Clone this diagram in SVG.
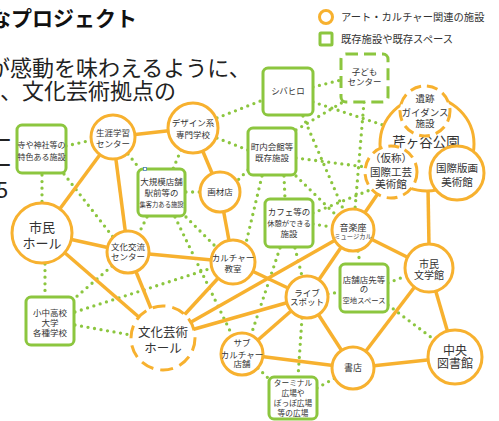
<svg xmlns="http://www.w3.org/2000/svg" width="499" height="421" viewBox="0 0 499 421">
<style>
text{font-family:"Noto Sans CJK JP","Noto Sans",sans-serif;fill:#333;text-anchor:middle}
.h{fill:#111;text-anchor:start}
.title{font-weight:bold;font-size:21px}
.body{font-size:22px;fill:#222}
.lg{font-size:10.3px;text-anchor:start;fill:#333}
.o{fill:#fff;stroke:#F7B12F;stroke-width:3}
.od{fill:#fff;stroke:#F7B12F;stroke-width:3;stroke-dasharray:11 6}
.g{fill:#fff;stroke:#8CC63F;stroke-width:3}
.gd{fill:#fff;stroke:#8CC63F;stroke-width:3;stroke-dasharray:12 6}
#solid line{stroke:#F7B12F;stroke-width:3.5}
#dotted line{stroke:#8CC63F;stroke-width:3.3;stroke-linecap:round;stroke-dasharray:0 6.6}
.s8{font-size:8px}.s85{font-size:8.5px}.s9{font-size:9px}.s95{font-size:9.5px}.s10{font-size:10px}.s105{font-size:10.5px}
.s73{font-size:7.3px}.s77{font-size:7.7px}.s63{font-size:6.3px}
</style>

<g id="heading">
<text class="h title" x="-10" y="26">なプロジェクト</text>
<text class="h body" x="-12" y="76">が感動を味わえるように、</text>
<text class="h body" x="0" y="99">、文化芸術拠点の</text>
<text class="h body" x="-10" y="148">ー</text>
<text class="h body" x="-10" y="173">ー</text>
<text class="h body" x="-4" y="198">5</text>
</g>

<g id="legend">
<circle class="o" cx="326" cy="17" r="6.5"/>
<text class="lg" x="341" y="21">アート・カルチャー関連の施設</text>
<rect class="g" x="320" y="33" width="12" height="12" rx="1"/>
<text class="lg" x="341" y="43">既存施設や既存スペース</text>
</g>

<g id="connectors">
<g id="dotted">
<line x1="66" y1="146" x2="92" y2="140"/>
<line x1="42" y1="175" x2="42" y2="203"/>
<line x1="64" y1="174" x2="113" y2="237"/>
<line x1="128" y1="154" x2="140" y2="169"/>
<line x1="181" y1="150" x2="173" y2="169"/>
<line x1="186" y1="192" x2="200" y2="192"/>
<line x1="147" y1="217" x2="139" y2="233"/>
<line x1="186" y1="217" x2="216" y2="247"/>
<line x1="175" y1="217" x2="232" y2="335"/>
<line x1="112" y1="266" x2="75" y2="298"/>
<line x1="45" y1="264" x2="45" y2="296"/>
<line x1="75" y1="312" x2="212" y2="268"/>
<line x1="75" y1="325" x2="131" y2="335"/>
<line x1="217" y1="118" x2="263" y2="100"/>
<line x1="217" y1="138" x2="248" y2="150"/>
<line x1="313" y1="87" x2="341" y2="80"/>
<line x1="313" y1="102" x2="383" y2="125"/>
<line x1="296" y1="130" x2="343" y2="102"/>
<line x1="364" y1="102" x2="355" y2="209"/>
<line x1="303" y1="116" x2="344" y2="211"/>
<line x1="296" y1="158" x2="366" y2="167"/>
<line x1="248" y1="170" x2="237" y2="181"/>
<line x1="262" y1="176" x2="246" y2="243"/>
<line x1="284" y1="176" x2="285" y2="199"/>
<line x1="296" y1="176" x2="337" y2="216"/>
<line x1="313" y1="213" x2="370" y2="190"/>
<line x1="313" y1="224" x2="332" y2="227"/>
<line x1="280" y1="248" x2="251" y2="335"/>
<line x1="295" y1="248" x2="302" y2="276"/>
<line x1="358" y1="251" x2="360" y2="264"/>
<line x1="328" y1="294" x2="340" y2="292"/>
<line x1="302" y1="318" x2="298" y2="377"/>
<line x1="388" y1="283" x2="406" y2="276"/>
<line x1="388" y1="305" x2="432" y2="338"/>
<line x1="258" y1="368" x2="270" y2="380"/>
<line x1="317" y1="388" x2="335" y2="378"/>
</g>
<g id="solid">
<line x1="113" y1="137" x2="193" y2="128"/>
<line x1="113" y1="137" x2="42" y2="233"/>
<line x1="113" y1="137" x2="128" y2="252"/>
<line x1="193" y1="128" x2="220" y2="192"/>
<line x1="220" y1="192" x2="233" y2="262"/>
<line x1="42" y1="233" x2="128" y2="252"/>
<line x1="128" y1="252" x2="233" y2="262"/>
<line x1="42" y1="233" x2="163" y2="338"/>
<line x1="128" y1="252" x2="163" y2="338"/>
<line x1="233" y1="262" x2="163" y2="338"/>
<line x1="353" y1="230" x2="163" y2="338"/>
<line x1="307" y1="297" x2="163" y2="338"/>
<line x1="233" y1="262" x2="307" y2="297"/>
<line x1="353" y1="230" x2="307" y2="297"/>
<line x1="307" y1="297" x2="242" y2="354"/>
<line x1="307" y1="297" x2="353" y2="368"/>
<line x1="242" y1="354" x2="353" y2="368"/>
<line x1="353" y1="368" x2="455" y2="357"/>
<line x1="353" y1="368" x2="429" y2="268"/>
<line x1="353" y1="230" x2="429" y2="268"/>
<line x1="429" y1="268" x2="455" y2="357"/>
<line x1="428" y1="188" x2="429" y2="246"/>
<line x1="353" y1="230" x2="392" y2="173"/>
<line x1="392" y1="171" x2="457" y2="171"/>
</g>
</g>

<g id="tera"><rect class="g" x="17" y="125" width="49" height="48" rx="5"/>
<text class="s8" x="41.5" y="148">寺や神社等の</text><text class="s8" x="41.5" y="160">特色ある施設</text></g>

<g id="shogai"><circle class="o" cx="113" cy="137" r="22"/>
<text class="s85" x="113" y="136">生涯学習</text><text class="s85" x="113" y="147">センター</text></g>

<g id="design"><circle class="o" cx="193" cy="128" r="25"/>
<text class="s85" x="193" y="126">デザイン系</text><text class="s85" x="193" y="138">専門学校</text></g>

<g id="daikibo"><rect class="g" x="138" y="169" width="47" height="47" rx="5"/>
<text class="s85" x="161.5" y="185">大規模店舗</text><text class="s85" x="161.5" y="196">駅前等の</text><text class="s63" x="161.5" y="206.5">集客力ある施設</text></g>
<rect x="143.5" y="167.5" width="3" height="3" fill="#fff" stroke="#4a7ebb" stroke-width="0.8"/>

<g id="gazai"><circle class="o" cx="220" cy="192" r="20"/>
<text class="s85" x="220" y="195">画材店</text></g>

<g id="shiminhall"><circle class="o" cx="42" cy="233" r="30"/>
<text x="42" y="232" style="font-size:13px">市民</text><text x="42" y="248" style="font-size:13px">ホール</text></g>

<g id="koryu"><circle class="o" cx="128" cy="252" r="21"/>
<text class="s85" x="128" y="250">文化交流</text><text class="s85" x="128" y="260">センター</text></g>

<g id="culture"><circle class="o" cx="233" cy="262" r="22"/>
<text class="s85" x="233" y="261">カルチャー</text><text class="s85" x="233" y="272">教室</text></g>

<g id="shibahiro"><rect class="g" x="263" y="68" width="50" height="47" rx="5"/>
<text class="s85" x="288" y="94">シバヒロ</text></g>

<g id="kodomo"><rect class="gd" x="341" y="54" width="47" height="48" rx="5"/>
<text class="s85" x="364.5" y="75">子ども</text><text class="s85" x="364.5" y="85">センター</text></g>

<g id="chonai"><rect class="g" x="248" y="128" width="48" height="47" rx="5"/>
<text class="s85" x="272" y="150">町内会館等</text><text class="s85" x="272" y="161">既存施設</text></g>

<g id="cafe"><rect class="g" x="265" y="199" width="48" height="48" rx="5"/>
<text class="s85" x="289" y="215">カフェ等の</text><text class="s73" x="289" y="226">休憩ができる</text><text class="s85" x="289" y="237">施設</text></g>

<g id="seriyagaya"><circle class="o" cx="427" cy="144" r="47"/>
<text x="426" y="147" style="font-size:13.5px">芹ヶ谷公園</text></g>

<g id="iseki"><circle class="od" cx="425" cy="111" r="25"/>
<text class="s95" x="425" y="101.5">遺跡</text><text class="s95" x="425" y="115.5">ガイダンス</text><text class="s95" x="425" y="126.5">施設</text></g>

<g id="kogei"><circle class="od" cx="391" cy="172" r="26"/>
<text class="s105" x="391" y="162">（仮称）</text><text class="s105" x="391" y="176">国際工芸</text><text class="s105" x="391" y="188">美術館</text></g>

<g id="hanga"><circle class="o" cx="457" cy="173" r="27"/>
<text class="s105" x="457" y="172">国際版画</text><text class="s105" x="457" y="186">美術館</text></g>

<g id="ongaku"><circle class="o" cx="353" cy="230" r="21"/>
<text class="s9" x="353" y="231">音楽座</text><text class="s63" x="353" y="239">ミュージカル</text></g>

<g id="live"><circle class="o" cx="307" cy="297" r="21"/>
<text class="s85" x="307" y="296">ライブ</text><text class="s85" x="307" y="305">スポット</text></g>

<g id="tenpo"><rect class="g" x="340" y="264" width="48" height="48" rx="5"/>
<text class="s85" x="364" y="283">店舗店先等</text><text class="s85" x="364" y="292">の</text><text class="s73" x="364" y="303">空地スペース</text></g>

<g id="bungaku"><circle class="o" cx="429" cy="268" r="24"/>
<text class="s10" x="429" y="268">市民</text><text class="s10" x="429" y="279">文学館</text></g>

<g id="shochu"><rect class="g" x="26" y="297" width="48" height="48" rx="5"/>
<text class="s85" x="50" y="316">小中高校</text><text class="s85" x="50" y="326">大学</text><text class="s85" x="50" y="336">各種学校</text></g>

<g id="geijutsu"><circle class="od" cx="163" cy="338" r="32" style="stroke-dasharray:13 7"/>
<text x="163" y="336.5" style="font-size:12.5px">文化芸術</text><text x="163" y="352.5" style="font-size:12.5px">ホール</text></g>

<g id="sub"><circle class="o" cx="242" cy="354" r="21"/>
<text class="s85" x="242" y="346">サブ</text><text class="s85" x="242" y="358">カルチャー</text><text class="s85" x="242" y="367">店舗</text></g>

<g id="shoten"><circle class="o" cx="353" cy="368" r="21"/>
<text class="s9" x="353" y="371">書店</text></g>

<g id="chuo"><circle class="o" cx="455" cy="357" r="27"/>
<text x="455" y="354.5" style="font-size:12px">中央</text><text x="455" y="367.5" style="font-size:12px">図書館</text></g>

<g id="terminal"><rect class="g" x="269" y="377" width="48" height="42" rx="5"/>
<text class="s77" x="293" y="386">ターミナル</text><text class="s77" x="293" y="396">広場や</text><text class="s77" x="293" y="406">ぽっぽ広場</text><text class="s77" x="293" y="416">等の広場</text></g>
</svg>
